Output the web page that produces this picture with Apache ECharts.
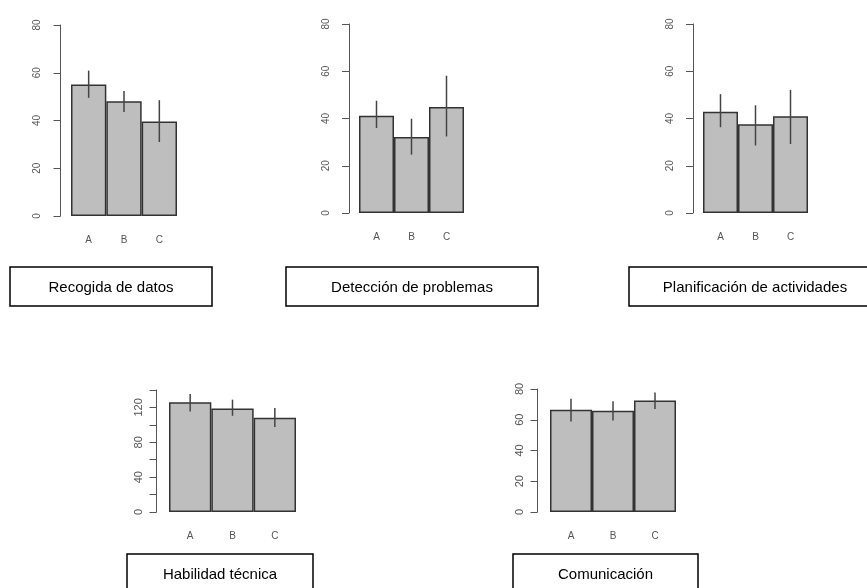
<!DOCTYPE html>
<html>
<head>
<meta charset="utf-8">
<script src="https://cdn.jsdelivr.net/npm/echarts@6/dist/echarts.min.js"></script>
<style>
html,body{margin:0;padding:0;background:#fff;}
#chart{width:867px;height:588px;}
</style>
</head>
<body>
<div id="chart"></div>
<script>
// ---- data ----
var categories = ['A', 'B', 'C'];
var titles = ['Recogida de datos', 'Detección de problemas', 'Planificación de actividades', 'Habilidad técnica', 'Comunicación'];

var recogidaVals = [55.1, 48.1, 39.6];
var recogidaLow = [49.5, 43.6, 31.0];
var recogidaHigh = [60.9, 52.4, 48.5];

var deteccionVals = [41.2, 32.2, 44.9];
var deteccionLow = [36.0, 24.7, 32.4];
var deteccionHigh = [47.5, 39.9, 58.1];

var planificacionVals = [42.9, 37.6, 41.0];
var planificacionLow = [36.3, 28.6, 29.2];
var planificacionHigh = [50.3, 45.6, 52.1];

var habilidadVals = [125.8, 118.8, 108.1];
var habilidadLow = [115.4, 110.4, 97.4];
var habilidadHigh = [135.5, 128.9, 119.3];

var comunicacionVals = [66.5, 65.9, 72.6];
var comunicacionLow = [58.9, 59.5, 67.0];
var comunicacionHigh = [73.7, 72.0, 77.8];

var axisMax = [80, 80, 80, 140, 80];
var tickStep = [20, 20, 20, 20, 20];
var labelStep = [20, 20, 20, 40, 20];

// ---- layout ----
var panels = [
  {vals: recogidaVals, lo: recogidaLow, hi: recogidaHigh, grid: {left: 71, top: 25, width: 106, height: 191}, axisOff: 10.5, lm: 18, fs: 10,
   box: {x: 10, y: 267, w: 202, h: 39}, tx: 111},
  {vals: deteccionVals, lo: deteccionLow, hi: deteccionHigh, grid: {left: 359, top: 24, width: 105, height: 189}, axisOff: 10, lm: 18, fs: 10,
   box: {x: 286, y: 267, w: 252, h: 39}, tx: 412},
  {vals: planificacionVals, lo: planificacionLow, hi: planificacionHigh, grid: {left: 703, top: 24, width: 105, height: 189}, axisOff: 10, lm: 18, fs: 10,
   box: {x: 629, y: 267, w: 250, h: 39}, tx: 755},
  {vals: habilidadVals, lo: habilidadLow, hi: habilidadHigh, grid: {left: 169, top: 390, width: 127, height: 122}, axisOff: 12.5, lm: 12, fs: 11,
   box: {x: 127, y: 554, w: 186, h: 39}, tx: 220},
  {vals: comunicacionVals, lo: comunicacionLow, hi: comunicacionHigh, grid: {left: 550, top: 389, width: 126, height: 123}, axisOff: 12.5, lm: 12, fs: 11,
   box: {x: 513, y: 554, w: 185, h: 39}, tx: 605.5}
];

var grids = [], xAxes = [], yAxes = [], series = [], graphics = [];
panels.forEach(function (p, i) {
  grids.push({left: p.grid.left, top: p.grid.top, width: p.grid.width, height: p.grid.height, containLabel: false});
  xAxes.push({
    type: 'category', gridIndex: i, data: categories,
    axisLine: {show: false}, axisTick: {show: false},
    axisLabel: {color: '#555', fontSize: 10, fontFamily: 'Liberation Sans, Arial, sans-serif', margin: 19}
  });
  var ls = labelStep[i];
  yAxes.push({
    type: 'value', gridIndex: i, min: 0, max: axisMax[i], interval: tickStep[i], offset: p.axisOff,
    splitLine: {show: false},
    axisLine: {show: true, lineStyle: {color: '#555', width: 1}},
    axisTick: {show: true, length: 7, lineStyle: {color: '#555', width: 1}},
    axisLabel: {color: '#555', fontSize: p.fs, rotate: 90, margin: p.lm, fontFamily: 'Liberation Sans, Arial, sans-serif',
      formatter: function (v) { return (v % ls === 0) ? String(v) : ''; }}
  });
  series.push({
    type: 'bar', xAxisIndex: i, yAxisIndex: i, data: p.vals,
    barCategoryGap: '0%', barWidth: '100%',
    itemStyle: {color: '#bebebe', borderColor: '#333', borderWidth: 1.5},
    silent: true, animation: false
  });
  var errData = categories.map(function (c, k) { return [k, p.lo[k], p.hi[k]]; });
  series.push({
    type: 'custom', xAxisIndex: i, yAxisIndex: i, data: errData, animation: false, silent: true, z: 5,
    renderItem: function (params, api) {
      var a = api.coord([api.value(0), api.value(1)]);
      var b = api.coord([api.value(0), api.value(2)]);
      return {type: 'line', shape: {x1: a[0], y1: a[1], x2: b[0], y2: b[1]},
        style: {stroke: '#444', lineWidth: 1.5}};
    }
  });
  graphics.push({
    type: 'rect', shape: {x: p.box.x, y: p.box.y, width: p.box.w, height: p.box.h},
    style: {fill: '#fff', stroke: '#000', lineWidth: 1.5}, z: 10
  });
  graphics.push({
    type: 'text', x: p.tx, y: p.box.y + 20.5, z: 11,
    style: {text: titles[i], fill: '#000', font: '15px "Liberation Sans", Arial, sans-serif', align: 'center', verticalAlign: 'middle'}
  });
});

var chart = echarts.init(document.getElementById('chart'), null, {renderer: 'canvas'});
chart.setOption({
  animation: false,
  backgroundColor: '#fff',
  grid: grids, xAxis: xAxes, yAxis: yAxes, series: series, graphic: graphics
});
</script>
</body>
</html>
